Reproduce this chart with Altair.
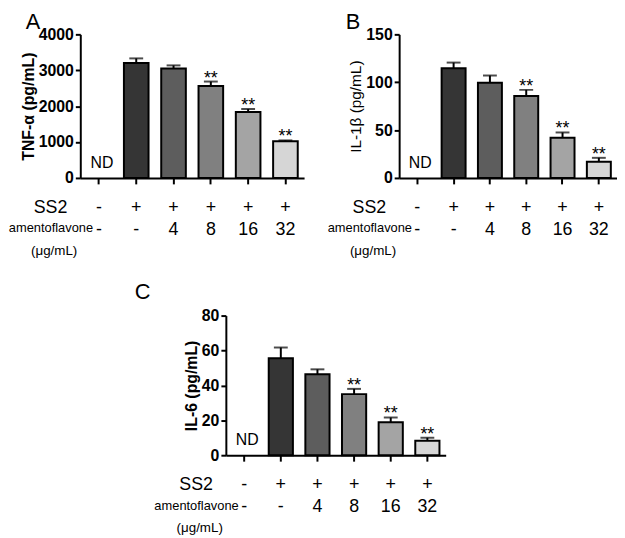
import altair as alt
import pandas as pd

FONT = "Liberation Sans"

# x categories: SS2 sign and amentoflavone dose (µg/mL)
ss2_signs = ["-", "+", "+", "+", "+", "+"]
amento_doses = ["-", "-", "4", "8", "16", "32"]
categories = [f"{s}|{d}" for s, d in zip(ss2_signs, amento_doses)]

# bar values (mean) and upper error (mean + SD) for the 5 measured groups
tnf_mean = [3200, 3050, 2560, 1840, 1020]
tnf_upper = [3330, 3135, 2685, 1920, 1045]
il1b_mean = [114.5, 99.5, 85.5, 42, 16.8]
il1b_upper = [120.5, 107, 92, 47.5, 21]
il6_mean = [55.5, 46.4, 35, 18.9, 8.3]
il6_upper = [61.7, 49.2, 38, 21.6, 10]
signif = ["", "", "**", "**", "**"]
bar_colors = ["#353535", "#5d5d5d", "#808080", "#a4a4a4", "#d6d6d6"]

tnf_ticks = [0, 1000, 2000, 3000, 4000]
il1b_ticks = [0, 50, 100, 150]
il6_ticks = [0, 20, 40, 60, 80]

row_headers = ["SS2", "amentoflavone", "(μg/mL)"]


def panel(mean, upper, title, ticks, letter, width, height, title_weight,
          title_size, title_pad, letter_x, letter_y):
    df = pd.DataFrame({"cat": categories[1:], "mean": mean, "upper": upper,
                       "sig": signif, "color": bar_colors})
    xenc = alt.X("cat:N", sort=categories,
                 scale=alt.Scale(domain=categories, paddingInner=0.34, paddingOuter=0.17),
                 axis=alt.Axis(title=None, labelExpr="split(datum.value, '|')",
                               labelAngle=0, labelFontSize=18, labelLineHeight=22,
                               labelPadding=15, tickSize=6, tickWidth=2, domainWidth=2,
                               labelColor="black", tickColor="black", domainColor="black",
                               labelFont=FONT))
    yaxis = alt.Axis(title=title, values=ticks, format="d", tickSize=5, tickWidth=2,
                     domainWidth=2, labelFontSize=16, labelFontWeight="bold",
                     labelColor="black", tickColor="black", domainColor="black",
                     labelPadding=2, titleFontSize=title_size, titleFontWeight=title_weight,
                     titleColor="black", titlePadding=title_pad, labelFont=FONT,
                     titleFont=FONT)
    yscale = alt.Scale(domain=[ticks[0], ticks[-1]], nice=False)

    def Y(field):
        return alt.Y(field, scale=yscale, axis=yaxis)

    base = alt.Chart(df).encode(x=xenc)
    bars = base.mark_bar(stroke="black", strokeWidth=2).encode(
        y=Y("mean:Q"), color=alt.Color("color:N", scale=None))
    stem = base.mark_rule(color="black", strokeWidth=2).encode(y=Y("mean:Q"), y2="upper:Q")
    cap = base.mark_tick(color="black", size=14, thickness=2).encode(y=Y("upper:Q"))
    stars = base.mark_text(fontSize=18, baseline="alphabetic", dy=2, font=FONT,
                           color="black").encode(y=Y("upper:Q"), text="sig:N")
    nd = alt.Chart(pd.DataFrame({"cat": [categories[0]], "v": [0], "t": ["ND"]})).mark_text(
        fontSize=16, baseline="alphabetic", dy=-10, dx=3, font=FONT, color="black").encode(
        x=xenc, y=Y("v:Q"), text="t:N")
    h1 = alt.Chart().mark_text(text=row_headers[0], fontSize=18, align="right",
                               baseline="alphabetic", font=FONT, color="black").encode(
        x=alt.value(-13), y=alt.value(height + 35))
    h2 = alt.Chart().mark_text(text=row_headers[1], fontSize=13, align="right",
                               baseline="alphabetic", font=FONT, color="black").encode(
        x=alt.value(13), y=alt.value(height + 55))
    h3 = alt.Chart().mark_text(text=row_headers[2], fontSize=13.5, align="right",
                               baseline="alphabetic", font=FONT, color="black").encode(
        x=alt.value(-3), y=alt.value(height + 78))
    let = alt.Chart().mark_text(text=letter, fontSize=22, align="left",
                                baseline="alphabetic", font=FONT, color="black").encode(
        x=alt.value(letter_x), y=alt.value(letter_y))
    return alt.layer(bars, stem, cap, stars, nd, h1, h2, h3, let).properties(
        width=width, height=height)


A = panel(tnf_mean, tnf_upper, "TNF-α (pg/mL)", tnf_ticks, "A", 226, 145, "bold", 16, 2, -55, -5)
B = panel(il1b_mean, il1b_upper, "IL-1β (pg/mL)", il1b_ticks, "B", 220, 145, "normal", 15.5, 2, -54, -5)
C = panel(il6_mean, il6_upper, "IL-6 (pg/mL)", il6_ticks, "C", 222, 141, "bold", 16, 2, -92, -17)

spacer = alt.Chart(pd.DataFrame({"v": [0]})).mark_text(text="").encode(
    x=alt.value(0), y=alt.value(0)).properties(width=147, height=141)

row1 = alt.hconcat(A, B, spacing=96, bounds="flush")
row2 = alt.hconcat(spacer, C, spacing=0, bounds="flush")
# with flush bounds the nested top row counts as zero height, so the spacing
# spans the top panel height (145) plus the gap (139)
chart = alt.vconcat(row1, row2, spacing=284, bounds="flush").properties(
    padding={"top": 1, "left": 0, "right": 0, "bottom": 0},
    background="white").configure_view(stroke=None).configure_axis(grid=False)

chart.save("out.html", embed_options={"renderer": "svg", "actions": False})
